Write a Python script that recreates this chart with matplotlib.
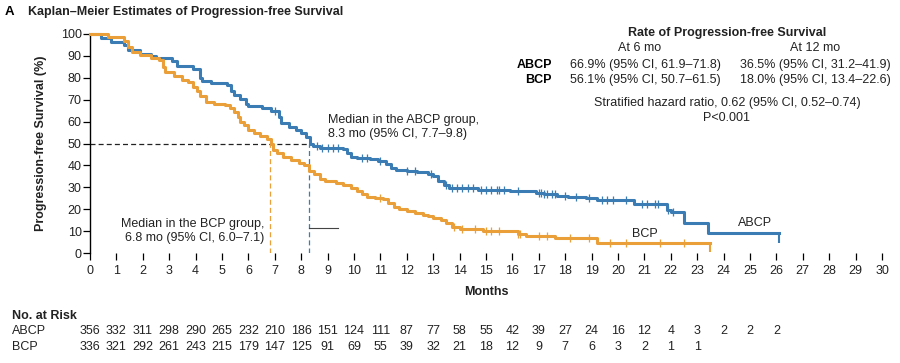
import numpy as np
import matplotlib
matplotlib.use("Agg")
import matplotlib.pyplot as plt
from matplotlib.transforms import blended_transform_factory

plt.rcParams['font.family'] = ['Liberation Sans', 'DejaVu Sans']

# ---- data ----
abcp_t = [0, 0.4, 0.8, 1.3, 1.45, 1.9, 2.3, 2.5, 3.1, 3.3, 3.9, 4.15, 4.25, 4.6, 5.2, 5.35, 5.45,
          5.7, 5.9, 6.0, 6.5, 6.85, 7.15, 7.25, 7.55, 7.8, 8.0, 8.2, 8.35, 8.45, 8.7, 9.6, 9.75,
          9.9, 10.1, 10.6, 10.9, 11.2, 11.4, 11.6, 12.0, 12.4, 12.8, 13.0, 13.2, 13.4, 13.6,
          14.7, 15.9, 16.9, 17.2, 17.7, 18.1, 18.8, 19.2, 20.6, 21.85, 22.0, 22.5, 23.4, 26.1]
abcp_s = [100, 98, 96.5, 95, 92.5, 91, 90, 89, 87.5, 85.5, 84, 80, 78.5, 77.5, 76.5, 74, 72,
          70.5, 68, 67, 66, 65, 62, 59.5, 57.5, 56, 55, 53, 50, 49, 48, 47.5, 45.5,
          44, 43.5, 43, 42, 40.5, 39, 38, 37.4, 37, 36, 35, 33, 31, 29.5,
          28.9, 28.4, 27.5, 26.8, 26.2, 25.5, 25, 24, 22.5, 19.5, 18.8, 13.8, 9.2, 9.2]
bcp_t = [0, 0.7, 1.3, 1.45, 1.6, 1.9, 2.3, 2.6, 2.75, 2.85, 3.2, 3.5, 3.7, 3.9, 4.05, 4.15, 4.4,
         4.7, 5.1, 5.3, 5.45, 5.6, 5.7, 5.85, 6.0, 6.2, 6.45, 6.7, 6.85, 6.95, 7.1, 7.3, 7.6, 7.9,
         8.1, 8.3, 8.5, 8.7, 8.9, 9.3, 9.6, 9.9, 10.1, 10.3, 10.5, 10.8, 11.1, 11.3, 11.5, 11.7,
         12.0, 12.3, 12.6, 12.8, 13.0, 13.3, 13.5, 13.7, 14.0, 14.9, 16.2, 16.5, 17.6, 19.2, 23.5]
bcp_s = [100, 98.5, 97, 94, 92, 90.5, 89, 88, 85, 82.5, 81, 79, 78, 76, 74, 71.5, 69,
         68, 67.4, 66, 64.5, 62, 60, 58.5, 56.1, 55, 53.5, 52, 50, 47, 45.5, 44, 42.5, 41,
         40, 37.5, 36, 34, 33, 32, 31, 29.5, 28.5, 27, 25.5, 25, 24.8, 23, 21, 20,
         19, 18.3, 17.5, 17, 16, 15, 13.5, 12, 10.9, 10, 8.6, 7.7, 6.7, 4.4, 4.4]
abcp_cens = [7.0, 8.6, 8.8, 9.0, 9.2, 9.4, 10.3, 10.5, 11.0, 12.0, 12.3, 12.9, 13.5, 13.7, 13.9,
             14.1, 14.3, 14.5, 14.8, 15.0, 15.2, 15.4, 15.5, 15.7, 16.2, 17.0, 17.1, 17.2, 17.3,
             17.5, 17.6, 18.0, 18.4, 18.9, 19.4, 19.6, 19.8, 20.3, 20.9, 21.1, 21.4, 21.5, 21.9, 22.1]
bcp_cens = [11.0, 13.8, 14.1, 14.6, 15.0, 15.2, 15.5, 16.2, 16.3, 17.0, 17.3, 18.2, 18.9, 19.7,
            20.3, 21.6, 22.5]
abcp_end_low = 4.5
bcp_end_low = 0.3

median_abcp = 8.3
median_bcp = 6.8

months = list(range(0, 31))
risk_abcp = [356, 332, 311, 298, 290, 265, 232, 210, 186, 151, 124, 111, 87, 77, 58, 55, 42, 39,
             27, 24, 16, 12, 4, 3, 2, 2, 2]
risk_bcp = [336, 321, 292, 261, 243, 215, 179, 147, 125, 91, 69, 55, 39, 32, 21, 18, 12, 9, 7,
            6, 3, 2, 1, 1]

BLUE = '#3a7cb3'
ORANGE = '#eb9f38'
TXT = '#222222'

fig = plt.figure(figsize=(9, 3.63), dpi=100)
ax = fig.add_axes([90 / 900, (363 - 253) / 363, 792 / 900, (253 - 34) / 363])
ax.set_xlim(0, 30)
ax.set_ylim(0, 100)


def step_at(ts, ss, x):
    i = np.searchsorted(ts, x, side='right') - 1
    return np.asarray(ss)[i]


for ts, ss, cens, col, low in [(abcp_t, abcp_s, abcp_cens, BLUE, abcp_end_low),
                               (bcp_t, bcp_s, bcp_cens, ORANGE, bcp_end_low)]:
    ax.plot(ts, ss, drawstyle='steps-post', color=col, lw=2.2, clip_on=False, zorder=3)
    cy = step_at(ts, ss, np.array(cens))
    ax.plot(cens, cy, ls='none', marker='|', ms=6, mew=0.9, color=col, zorder=4)
    ax.vlines(ts[-1], low, ss[-1], color=col, lw=1.5, zorder=3)

# median lines
ax.plot([0, median_abcp], [50, 50], ls=(0, (4, 2.5)), color=TXT, lw=0.9)
ax.plot([median_bcp, median_bcp], [0, 50], ls=(0, (4, 2.5)), color=ORANGE, lw=0.9)
ax.plot([median_abcp, median_abcp], [0, 50], ls=(0, (4, 2.5)), color=BLUE, lw=0.9)
ax.plot([median_abcp, 9.4], [11.3, 11.3], color='#444444', lw=0.8)

fs = 9
ax.text(9.0, 57.5, 'Median in the ABCP group,\n8.3 mo (95% CI, 7.7\u20139.8)', fontsize=fs,
        ha='left', va='center', color=TXT, linespacing=1.15)
ax.text(6.6, 10.0, 'Median in the BCP group,\n6.8 mo (95% CI, 6.0\u20137.1)', fontsize=fs,
        ha='right', va='center', color=TXT, linespacing=1.3)
ax.text(25.2, 13.5, 'ABCP', fontsize=fs, ha='center', va='center', color=TXT)
ax.text(21.0, 8.8, 'BCP', fontsize=fs, ha='center', va='center', color=TXT)

# axes styling
for sp in ['top', 'right', 'bottom']:
    ax.spines[sp].set_visible(False)
ax.spines['left'].set_linewidth(1.0)
ax.set_xticks(months)
ax.set_yticks(range(0, 101, 10))
ax.tick_params(axis='x', length=5, width=0.9, pad=4, labelsize=fs, labelcolor=TXT)
ax.tick_params(axis='y', length=5, width=0.9, pad=1, labelsize=fs, labelcolor=TXT)
ax.set_xlabel('Months', fontsize=fs, fontweight='bold', labelpad=6, color=TXT)
ax.set_ylabel('Progression-free Survival (%)', fontsize=fs, fontweight='bold', labelpad=10,
              color=TXT)

# title
fig.text(5 / 900, 1 - 12 / 363, 'A', fontsize=fs + 0.5, fontweight='bold', va='center')
fig.text(28 / 900, 1 - 12 / 363, 'Kaplan\u2013Meier Estimates of Progression-free Survival',
         fontsize=fs, fontweight='bold', va='center', color=TXT)

# rate table
fig.text(727 / 900, 1 - 33 / 363, 'Rate of Progression-free Survival', fontsize=fs,
         fontweight='bold', ha='center', va='center', color=TXT)
fig.text(640 / 900, 1 - 48 / 363, 'At 6 mo', fontsize=fs, ha='center', va='center', color=TXT)
fig.text(815 / 900, 1 - 48 / 363, 'At 12 mo', fontsize=fs, ha='center', va='center', color=TXT)
fig.text(552 / 900, 1 - 65 / 363, 'ABCP', fontsize=fs, fontweight='bold', ha='right', va='center')
fig.text(552 / 900, 1 - 80 / 363, 'BCP', fontsize=fs, fontweight='bold', ha='right', va='center')
fig.text(570 / 900, 1 - 65 / 363, '66.9% (95% CI, 61.9\u201371.8)', fontsize=fs, va='center',
         color=TXT)
fig.text(740 / 900, 1 - 65 / 363, '36.5% (95% CI, 31.2\u201341.9)', fontsize=fs, va='center',
         color=TXT)
fig.text(570 / 900, 1 - 80 / 363, '56.1% (95% CI, 50.7\u201361.5)', fontsize=fs, va='center',
         color=TXT)
fig.text(740 / 900, 1 - 80 / 363, '18.0% (95% CI, 13.4\u201322.6)', fontsize=fs, va='center',
         color=TXT)
fig.text(727 / 900, 1 - 103 / 363, 'Stratified hazard ratio, 0.62 (95% CI, 0.52\u20130.74)',
         fontsize=fs, ha='center', va='center', color=TXT)
fig.text(727 / 900, 1 - 118 / 363, 'P<0.001', fontsize=fs, ha='center', va='center', color=TXT)

# number at risk
tr = blended_transform_factory(ax.transData, fig.transFigure)
fig.text(12 / 900, 1 - 316 / 363, 'No. at Risk', fontsize=fs, fontweight='bold', va='center',
         color=TXT)
fig.text(12 / 900, 1 - 331 / 363, 'ABCP', fontsize=fs, va='center', color=TXT)
fig.text(12 / 900, 1 - 347 / 363, 'BCP', fontsize=fs, va='center', color=TXT)
for m, v in zip(months, risk_abcp):
    ax.text(m, 1 - 331 / 363, str(v), transform=tr, fontsize=fs, ha='center', va='center',
            clip_on=False, color=TXT)
for m, v in zip(months, risk_bcp):
    ax.text(m, 1 - 347 / 363, str(v), transform=tr, fontsize=fs, ha='center', va='center',
            clip_on=False, color=TXT)

fig.savefig('out.png', dpi=100)
